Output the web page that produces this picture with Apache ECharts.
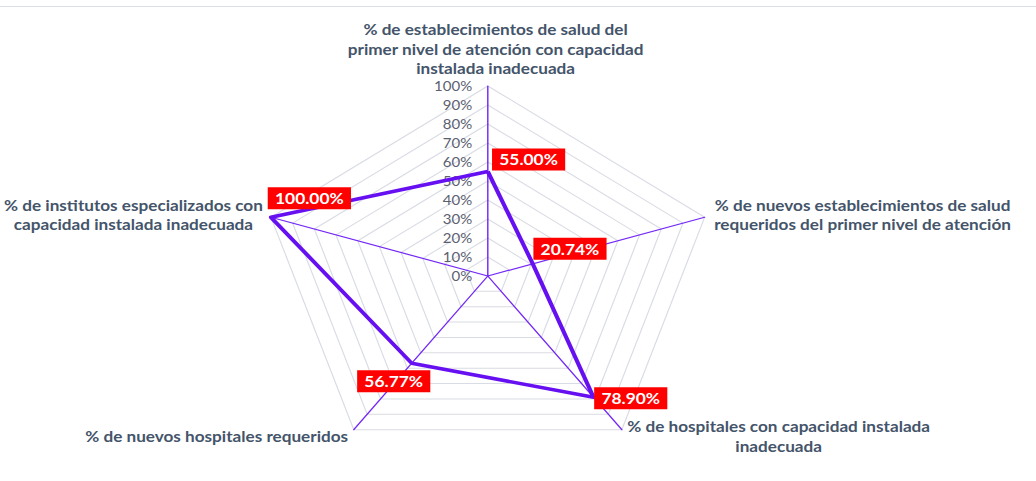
<!DOCTYPE html>
<html>
<head>
<meta charset="utf-8">
<script src="https://cdn.jsdelivr.net/npm/echarts@6/dist/echarts.min.js"></script>
<style>
  html, body { margin: 0; padding: 0; background: #ffffff; overflow: hidden; }
  #topline { position: absolute; left: 0; top: 6px; width: 1036px; height: 1px; background: #dcdfe6; }
  #wrap { position: absolute; left: 0; top: 0; width: 1036px; height: 481px; overflow: hidden; }
  #chart { width: 863.33px; height: 481px; transform: scaleX(1.2); transform-origin: 0 0; }
</style>
</head>
<body>
<div id="topline"></div>
<div id="wrap"><div id="chart"></div></div>
<script>
// Categories in clockwise order starting at the top
const categories = [
  '% de establecimientos de salud del\nprimer nivel de atención con capacidad\ninstalada inadecuada',
  '% de nuevos establecimientos de salud\nrequeridos del primer nivel de atención',
  '% de hospitales con capacidad instalada\ninadecuada',
  '% de nuevos hospitales requeridos',
  '% de institutos especializados con\ncapacidad instalada inadecuada'
];
const values = [55.00, 20.74, 78.90, 56.77, 100.00];
const axisMax = 100;

// styling (not data)
const nameStyleKeys = ['t', 'r', 'br', 'bl', 'l'];
const labelOffsets = [[34, -12], [31, -15], [31, 1], [-15, 18], [32, -19]];

const n = categories.length;
// ECharts radar lays indicators counter-clockwise: reorder
const radarOrder = [0].concat(Array.from({length: n - 1}, (_, k) => n - 1 - k));

const FONT = 'Lato';
const nameColor = '#44546a';
const baseName = { fontFamily: FONT, fontWeight: 'bold', fontSize: 14.3, color: nameColor, lineHeight: 19.5 };

const chart = echarts.init(document.getElementById('chart'), null, { renderer: 'svg' });

const option = {
  backgroundColor: 'transparent',
  animation: false,
  radar: {
    center: [406.5, 276],
    radius: 190,
    startAngle: 90,
    splitNumber: 10,
    shape: 'polygon',
    nameGap: 8,
    indicator: radarOrder.map((idx) => {
      const ind = { name: categories[idx], min: 0, max: axisMax };
      if (idx === 0) ind.axisLabel = { show: true };
      return ind;
    }),
    axisName: {
      formatter: function (name) {
        const idx = categories.indexOf(name);
        const key = nameStyleKeys[idx];
        return name.split('\n').map(l => '{' + key + '|' + l + '}').join('\n');
      },
      rich: {
        t: Object.assign({}, baseName, { padding: [0, 0, 0, 13] }),
        r: Object.assign({}, baseName, { width: 248, align: 'center' }),
        br: Object.assign({}, baseName, { width: 252, align: 'center' }),
        bl: Object.assign({}, baseName),
        l: Object.assign({}, baseName, { width: 214, align: 'center' })
      }
    },
    splitLine: { lineStyle: { color: '#d9dce4', width: 1 } },
    splitArea: { show: false },
    axisLine: { lineStyle: { color: '#7328f7', width: 1.2 } },
    axisTick: { show: false },
    axisLabel: {
      show: false,
      formatter: '{value}%',
      color: '#5b6070',
      fontFamily: FONT,
      fontSize: 12.5,
      margin: 13
    }
  },
  polar: { center: [406.5, 276], radius: 190 },
  angleAxis: { type: 'value', min: 0, max: 360, startAngle: 90, clockwise: true, show: false },
  radiusAxis: { type: 'value', min: 0, max: axisMax, show: false },
  series: [
    {
      type: 'radar',
      symbol: 'none',
      lineStyle: { color: '#6610f2', width: 3.5 },
      itemStyle: { color: '#6610f2' },
      data: [{ value: radarOrder.map(idx => values[idx]) }],
      z: 3
    },
    {
      type: 'scatter',
      coordinateSystem: 'polar',
      symbolSize: 0.1,
      itemStyle: { color: 'rgba(0,0,0,0)', opacity: 1 },
      z: 5,
      label: {
        show: true,
        position: 'inside',
        formatter: p => p.value[0].toFixed(2) + '%',
        color: '#ffffff',
        opacity: 1,
        fontFamily: FONT,
        fontWeight: 'bold',
        fontSize: 14.5,
        lineHeight: 16,
        backgroundColor: '#ff0000',
        padding: [3, 6, 3, 6]
      },
      data: values.map((v, i) => ({ value: [v, i * 360 / n], label: { offset: labelOffsets[i] } }))
    }
  ]
};
chart.setOption(option);
</script>
</body>
</html>
